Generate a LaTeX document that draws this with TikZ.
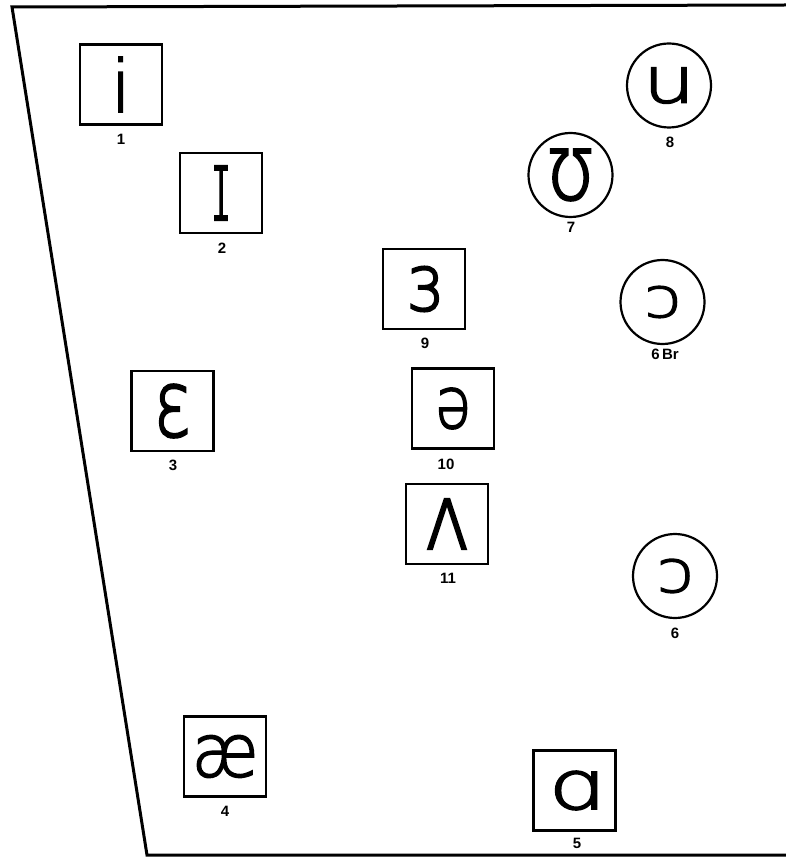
\documentclass[tikz,border=0pt]{standalone}
\usepackage{fontspec}
\setmainfont{Liberation Sans}
\newfontfamily\ipafont[FakeBold=2.5]{DejaVu Sans ExtraLight}
\newcommand{\ipasym}[3]{\resizebox{#1}{#2}{\ipafont #3}}
\begin{document}
\begin{tikzpicture}[x=1pt,y=-1pt,
  sqbox/.style={draw, line width=2.8pt, minimum width=82pt, minimum height=80pt, inner sep=0pt},
  circ/.style={draw, circle, line width=2.2pt, minimum size=84pt, inner sep=0pt},
  num/.style={font=\bfseries\fontsize{15}{15}\selectfont, inner sep=0pt},
  frameline/.style={line width=3pt, line join=miter}]
\useasboundingbox (0,0) rectangle (785,858);
% frame
\coordinate (tr) at (786,5);
\coordinate (tl) at (12,7);
\coordinate (bl) at (147,855);
\coordinate (br) at (786,855);
\draw[frameline] (tr) -- (tl) -- (bl) -- (br);
% boxes
\node[sqbox] (b1) at (121,84.5) {\ipasym{!}{55pt}{i}};
\node[sqbox] (b2) at (221,193) {\ipasym{18pt}{54pt}{ɪ}};
\node[sqbox] (b9) at (424,289) {\ipasym{38pt}{44pt}{ɜ}};
\node[sqbox] (b3) at (172.5,411) {\ipasym{38pt}{52pt}{ɛ}};
\node[sqbox] (b10) at (453,408.5) {\ipasym{36pt}{40pt}{ə}};
\node[sqbox] (b11) at (447,524) {\ipasym{48pt}{50pt}{ʌ}};
\node[sqbox] (b4) at (225,756.5) {\ipasym{66pt}{41pt}{æ}};
\node[sqbox] (b5) at (574.5,790.5) {\ipasym{58pt}{38pt}{ɑ}};
% circles
\node[circ] (c8) at (669,85.5) {\ipasym{52pt}{35pt}{u}};
\node[circ] (c7) at (570.5,175) {\ipasym{48pt}{50pt}{ʊ}};
\node[circ] (c6b) at (662.5,302) {\ipasym{36pt}{31pt}{ɔ}};
\node[circ] (c6) at (675,576) {\ipasym{36pt}{33pt}{ɔ}};
% labels
\node[num] (l1) at (121,139) {1};
\node[num] (l2) at (222,248) {2};
\node[num] (l9) at (425,343) {9};
\node[num] (l3) at (173,465) {3};
\node[num] (l10) at (446,464) {10};
\node[num] (l11) at (448,578) {11};
\node[num] (l4) at (225,811) {4};
\node[num] (l5) at (577,843) {5};
\node[num] (l8) at (670,142) {8};
\node[num] (l7) at (571,227) {7};
\node[num] (l6b) at (665,354) {6\,Br};
\node[num] (l6) at (675,633) {6};
\end{tikzpicture}
\end{document}
